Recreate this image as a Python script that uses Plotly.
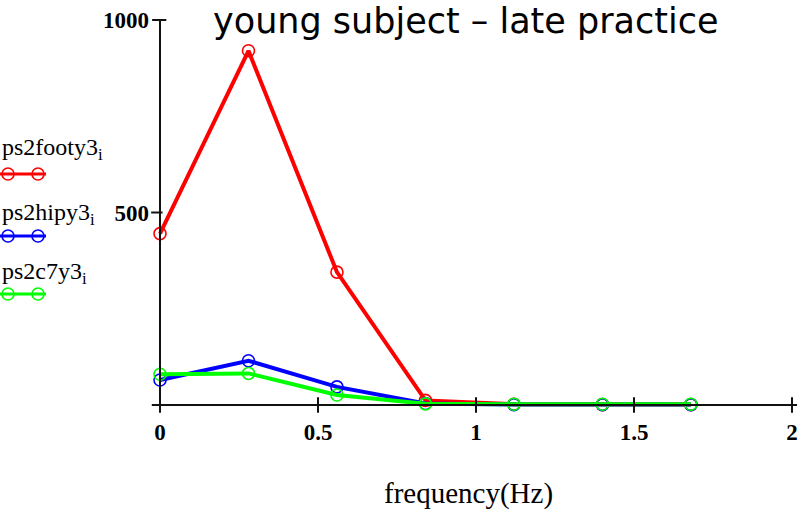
import plotly.graph_objects as go

# Spectral power at the analysed frequencies (Hz)
frequency = [0.0, 0.28, 0.56, 0.84, 1.12, 1.40, 1.68]
ps2footy3 = [445, 920, 345, 12, 2, 1, 1]
ps2hipy3 = [65, 115, 47, 4, 1, 1, 1]
ps2c7y3 = [80, 82, 26, 3, 2, 2, 2]

series_names = ["ps2footy3", "ps2hipy3", "ps2c7y3"]
series_values = [ps2footy3, ps2hipy3, ps2c7y3]
series_colors = ["#ff0000", "#0000ff", "#00ff00"]

x_ticks = [0, 0.5, 1, 1.5, 2]
x_tick_text = ["0", "0.5", "1", "1.5", "2"]
y_ticks = [500, 1000]
y_tick_text = ["500", "1000"]

W, H = 807, 514
L, R, T, B = 150, 9, 18, 99
PW, PH = W - L - R, H - T - B


def px(xp):
    return (xp - L) / PW


def py(yp):
    return (H - B - yp) / PH


fig = go.Figure()
for name, vals, col in zip(series_names, series_values, series_colors):
    fig.add_trace(go.Scatter(
        x=frequency, y=vals, name=name, mode="lines+markers",
        line=dict(color=col, width=4),
        marker=dict(symbol="circle-open", size=12, color=col, line=dict(width=1.6, color=col)),
        cliponaxis=False, showlegend=False,
    ))

shapes = []
axis_col = "#111111"
# x axis and y axis drawn through the origin
shapes.append(dict(type="line", xref="x", yref="y", x0=-0.026, x1=2.016, y0=0, y1=0,
                   line=dict(color=axis_col, width=2)))
shapes.append(dict(type="line", xref="x", yref="y", x0=0, x1=0, y0=-18, y1=1000,
                   line=dict(color=axis_col, width=2)))
# cap at the top of the y axis
shapes.append(dict(type="line", xref="x", yref="y", x0=-0.025, x1=0.02, y0=1000, y1=1000,
                   line=dict(color=axis_col, width=2)))
for xv in x_ticks:
    shapes.append(dict(type="line", xref="x", yref="y", x0=xv, x1=xv, y0=-20, y1=20,
                       line=dict(color=axis_col, width=2)))
for yv in y_ticks[:-1]:
    shapes.append(dict(type="line", xref="x", yref="y", x0=-0.028, x1=0.008, y0=yv, y1=yv,
                       line=dict(color=axis_col, width=2)))

# hand-drawn legend on the left
legend_text_y = [149, 214, 273]
legend_line_y = [174, 236, 294]
annotations = []
for name, col, ty, ly in zip(series_names, series_colors, legend_text_y, legend_line_y):
    annotations.append(dict(
        text=name + "<sub>i</sub>", xref="paper", yref="paper", x=px(0), y=py(ty),
        xanchor="left", yanchor="middle", showarrow=False,
        font=dict(family="Liberation Serif", size=24, color="#000000"),
    ))
    shapes.append(dict(type="line", xref="paper", yref="paper", x0=px(0), x1=px(46),
                       y0=py(ly), y1=py(ly), line=dict(color=col, width=3)))
    for cx in (8, 38):
        shapes.append(dict(type="circle", xref="paper", yref="paper",
                           x0=px(cx - 6), x1=px(cx + 6), y0=py(ly - 6), y1=py(ly + 6),
                           line=dict(color=col, width=1.6)))

annotations.append(dict(
    text="young subject \u2013 late practice", xref="paper", yref="paper",
    x=px(466), y=py(21), xanchor="center", yanchor="middle", showarrow=False,
    font=dict(family="DejaVu Sans", size=35, color="#000000"),
))
annotations.append(dict(
    text="frequency(Hz)", xref="paper", yref="paper",
    x=px(468), y=py(493), xanchor="center", yanchor="middle", showarrow=False,
    font=dict(family="Liberation Serif", size=29, color="#000000"),
))

x0 = -(160 - L) / 316
fig.update_layout(
    width=W, height=H,
    margin=dict(l=L, r=R, t=T, b=B, pad=0),
    paper_bgcolor="white", plot_bgcolor="white",
    shapes=shapes, annotations=annotations,
    xaxis=dict(range=[x0, x0 + PW / 316], showgrid=False, zeroline=False, showline=False,
               tickvals=x_ticks, ticktext=x_tick_text, ticks="",
               ticklabelstandoff=1,
               tickfont=dict(family="Liberation Serif", size=23, color="#000000", weight="bold")),
    yaxis=dict(range=[-(415 - 405) / 0.385, 1000 + (20 - T) / 0.385],
               showgrid=False, zeroline=False, showline=False,
               tickvals=y_ticks, ticktext=y_tick_text, ticks="",
               ticklabelstandoff=0,
               tickfont=dict(family="Liberation Serif", size=23, color="#000000", weight="bold")),
)

fig.write_html("out.html")
